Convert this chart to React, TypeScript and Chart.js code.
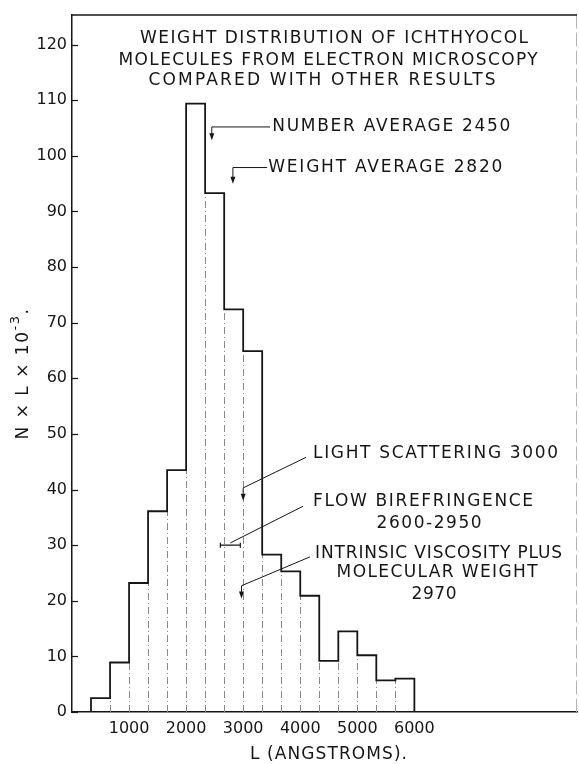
import React, { useEffect, useRef } from "react";
import { Chart, registerables } from "chart.js";

Chart.register(...registerables);

// ---- data ----
const binEdges = [333, 667, 1000, 1333, 1667, 2000, 2333, 2667, 3000, 3333, 3667, 4000, 4333, 4667, 5000, 5333, 5667, 6000];
const binValues = [2.5, 8.9, 23.2, 36.1, 43.5, 109.4, 93.3, 72.4, 64.9, 28.3, 25.3, 20.9, 9.2, 14.5, 10.2, 5.7, 6.0];
const xTickValues = [1000, 2000, 3000, 4000, 5000, 6000];
const yTickValues = [0, 10, 20, 30, 40, 50, 60, 70, 80, 90, 100, 110, 120];
const titleLines = [
  "WEIGHT DISTRIBUTION OF ICHTHYOCOL",
  "MOLECULES FROM ELECTRON MICROSCOPY",
  "COMPARED WITH OTHER RESULTS",
];
const numberAverage = 2450;
const weightAverage = 2820;
const lightScattering = 3000;
const flowBirefringence = [2600, 2950];
const flowBirefringenceLevel = 30;
const intrinsicViscosity = 2970;

const FONT = '"DejaVu Sans", "Liberation Sans", sans-serif';
const INK = "#161616";

function fitText(ctx: CanvasRenderingContext2D, text: string, x: number, y: number, size: number, width: number, align: "left" | "center") {
  ctx.save();
  ctx.font = `${size}px ${FONT}`;
  (ctx as any).letterSpacing = "0px";
  const w0 = ctx.measureText(text).width;
  const n = Array.from(text).length;
  const sp = n > 1 ? (width - w0) / (n - 1) : 0;
  (ctx as any).letterSpacing = `${sp}px`;
  const left = align === "center" ? x - width / 2 : x;
  ctx.textAlign = "left";
  ctx.textBaseline = "middle";
  ctx.fillStyle = INK;
  ctx.fillText(text, left, y);
  ctx.restore();
}

function arrowDown(ctx: CanvasRenderingContext2D, x: number, y0: number, y1: number) {
  ctx.beginPath();
  ctx.moveTo(x, y0);
  ctx.lineTo(x, y1 - 5);
  ctx.stroke();
  ctx.beginPath();
  ctx.moveTo(x - 2.5, y1 - 7);
  ctx.lineTo(x + 2.5, y1 - 7);
  ctx.lineTo(x, y1);
  ctx.closePath();
  ctx.fill();
}

const decorPlugin = {
  id: "decor",
  beforeDatasetsDraw(chart: any) {
    const { ctx, chartArea, scales } = chart;
    const xs = scales.x, ys = scales.y;
    ctx.save();
    // dashed bin boundaries below the lower neighbour
    ctx.strokeStyle = "#8a8a8a";
    ctx.lineWidth = 1;
    ctx.setLineDash([7, 3, 1, 3]);
    for (let i = 1; i < binValues.length; i++) {
      const h = Math.min(binValues[i - 1], binValues[i]);
      const px = Math.round(xs.getPixelForValue(binEdges[i])) + 0.5;
      ctx.beginPath();
      ctx.moveTo(px, ys.getPixelForValue(0));
      ctx.lineTo(px, ys.getPixelForValue(h));
      ctx.stroke();
    }
    // right frame (faint dashed)
    ctx.strokeStyle = "#b5b5b5";
    ctx.setLineDash([14, 4]);
    ctx.beginPath();
    ctx.moveTo(chartArea.right - 0.5, chartArea.top);
    ctx.lineTo(chartArea.right - 0.5, chartArea.bottom);
    ctx.stroke();
    ctx.setLineDash([]);
    // top frame
    ctx.strokeStyle = INK;
    ctx.lineWidth = 1.5;
    ctx.beginPath();
    ctx.moveTo(chartArea.left, chartArea.top + 0.5);
    ctx.lineTo(chartArea.right, chartArea.top + 0.5);
    ctx.stroke();
    // inward y ticks
    ctx.lineWidth = 1.2;
    for (const v of yTickValues) {
      const py = Math.round(ys.getPixelForValue(v)) + 0.5;
      ctx.beginPath();
      ctx.moveTo(chartArea.left, py);
      ctx.lineTo(chartArea.left + 6, py);
      ctx.stroke();
    }
    ctx.restore();
  },
  afterDatasetsDraw(chart: any) {
    const { ctx, scales } = chart;
    const X = (v: number) => scales.x.getPixelForValue(v);
    const Y = (v: number) => scales.y.getPixelForValue(v);
    ctx.save();
    ctx.strokeStyle = INK;
    ctx.fillStyle = INK;
    ctx.lineWidth = 1;

    // title
    fitText(ctx, titleLines[0], X(4592), Y(121.1), 17, 388, "center");
    fitText(ctx, titleLines[1], X(4487), Y(117.2), 17, 419, "center");
    fitText(ctx, titleLines[2], X(4382), Y(113.6), 17, 347, "center");

    // number average
    ctx.beginPath();
    ctx.moveTo(X(numberAverage), Y(105.2));
    ctx.lineTo(X(3470), Y(105.2));
    ctx.stroke();
    arrowDown(ctx, X(numberAverage), Y(105.2), Y(102.8));
    fitText(ctx, `NUMBER AVERAGE ${numberAverage}`, X(3510), Y(105.2), 17, 238, "left");

    // weight average
    ctx.beginPath();
    ctx.moveTo(X(weightAverage), Y(97.9));
    ctx.lineTo(X(3420), Y(97.9));
    ctx.stroke();
    arrowDown(ctx, X(weightAverage), Y(97.9), Y(95.0));
    fitText(ctx, `WEIGHT AVERAGE ${weightAverage}`, X(3440), Y(97.9), 17, 234, "left");

    // light scattering
    ctx.beginPath();
    ctx.moveTo(X(4102), Y(45.8));
    ctx.lineTo(X(lightScattering), Y(40.3));
    ctx.stroke();
    arrowDown(ctx, X(lightScattering), Y(40.3), Y(38.0));
    fitText(ctx, `LIGHT SCATTERING ${lightScattering}`, X(4224), Y(46.5), 17, 245, "left");

    // flow birefringence error bar
    const yb = Y(flowBirefringenceLevel);
    ctx.lineWidth = 1.2;
    ctx.beginPath();
    ctx.moveTo(X(flowBirefringence[0]), yb);
    ctx.lineTo(X(flowBirefringence[1]), yb);
    ctx.moveTo(X(flowBirefringence[0]), yb - 2.5);
    ctx.lineTo(X(flowBirefringence[0]), yb + 2.5);
    ctx.moveTo(X(flowBirefringence[1]), yb - 2.5);
    ctx.lineTo(X(flowBirefringence[1]), yb + 2.5);
    ctx.stroke();
    ctx.lineWidth = 1;
    const mid = (flowBirefringence[0] + flowBirefringence[1]) / 2;
    ctx.beginPath();
    ctx.moveTo(X(mid), Y(flowBirefringenceLevel + 0.4));
    ctx.lineTo(X(4050), Y(37.0));
    ctx.stroke();
    fitText(ctx, "FLOW BIREFRINGENCE", X(4224), Y(37.9), 17, 220, "left");
    fitText(ctx, `${flowBirefringence[0]}-${flowBirefringence[1]}`, X(6258), Y(33.8), 17, 105, "center");

    // intrinsic viscosity
    ctx.beginPath();
    ctx.moveTo(X(4172), Y(27.9));
    ctx.lineTo(X(intrinsicViscosity), Y(22.7));
    ctx.stroke();
    arrowDown(ctx, X(intrinsicViscosity), Y(22.7), Y(20.4));
    fitText(ctx, "INTRINSIC VISCOSITY PLUS", X(4260), Y(28.4), 17, 247, "left");
    fitText(ctx, "MOLECULAR WEIGHT", X(6398), Y(25.0), 17, 201, "center");
    fitText(ctx, `${intrinsicViscosity}`, X(6345), Y(21.1), 17, 45, "center");

    // axis titles
    fitText(ctx, "L (ANGSTROMS).", (scales.x.left + scales.x.right) / 2 + 4, 755, 17, 157, "center");
    // rotated y title: "N × L × 10" + superscript "-3" + "."
    ctx.save();
    ctx.translate(24, 374);
    ctx.rotate(-Math.PI / 2);
    ctx.fillStyle = INK;
    ctx.textBaseline = "middle";
    ctx.textAlign = "left";
    ctx.font = `17px ${FONT}`;
    (ctx as any).letterSpacing = "1.5px";
    const mainTxt = "N × L × 10";
    const mainW = ctx.measureText(mainTxt).width;
    ctx.font = `13px ${FONT}`;
    const supW = ctx.measureText("-3").width;
    const total = mainW + supW + 6;
    let cx = -total / 2;
    ctx.font = `17px ${FONT}`;
    ctx.fillText(mainTxt, cx, 0);
    cx += mainW;
    ctx.font = `13px ${FONT}`;
    ctx.fillText("-3", cx, -8);
    cx += supW;
    ctx.font = `17px ${FONT}`;
    ctx.fillText(".", cx, 0);
    ctx.restore();

    ctx.restore();
  },
};

export default function App() {
  const ref = useRef<HTMLCanvasElement | null>(null);
  useEffect(() => {
    if (!ref.current) return;
    const points: { x: number; y: number }[] = [{ x: binEdges[0], y: 0 }];
    binValues.forEach((v, i) => points.push({ x: binEdges[i], y: v }));
    points.push({ x: binEdges[binEdges.length - 1], y: 0 });

    const chart = new Chart(ref.current, {
      type: "line",
      data: {
        datasets: [
          {
            data: points,
            stepped: "before",
            borderColor: INK,
            borderWidth: 1.8,
            pointRadius: 0,
            fill: false,
          },
        ],
      },
      options: {
        animation: false,
        responsive: false,
        devicePixelRatio: 1,
        layout: { padding: { left: 0, top: 11, right: 2, bottom: 0 } },
        plugins: { legend: { display: false }, tooltip: { enabled: false }, title: { display: false } },
        scales: {
          x: {
            type: "linear",
            min: 0,
            max: 8850,
            afterFit: (s: any) => { s.height = 52; },
            afterBuildTicks: (s: any) => { s.ticks = xTickValues.map((v) => ({ value: v })); },
            grid: { display: false, drawTicks: false },
            border: { display: true, color: INK, width: 1.5 },
            ticks: {
              color: INK,
              font: { family: FONT, size: 16 },
              padding: 7,
              maxRotation: 0,
              autoSkip: false,
              callback: (v: any) => String(v),
            },
          },
          y: {
            type: "linear",
            min: 0,
            max: 125.4,
            afterFit: (s: any) => { s.width = 72; },
            afterBuildTicks: (s: any) => { s.ticks = yTickValues.map((v) => ({ value: v })); },
            grid: { display: false, drawTicks: false },
            border: { display: true, color: INK, width: 1.5 },
            ticks: {
              color: INK,
              font: { family: FONT, size: 16 },
              padding: 5,
              autoSkip: false,
              callback: (v: any) => String(v),
            },
          },
        },
      },
      plugins: [decorPlugin],
    });
    return () => chart.destroy();
  }, []);

  return (
    <div style={{ position: "fixed", left: 0, top: 0, width: 579, height: 764, background: "#fff" }}>
      <canvas ref={ref} width={579} height={764} style={{ display: "block" }} />
    </div>
  );
}
